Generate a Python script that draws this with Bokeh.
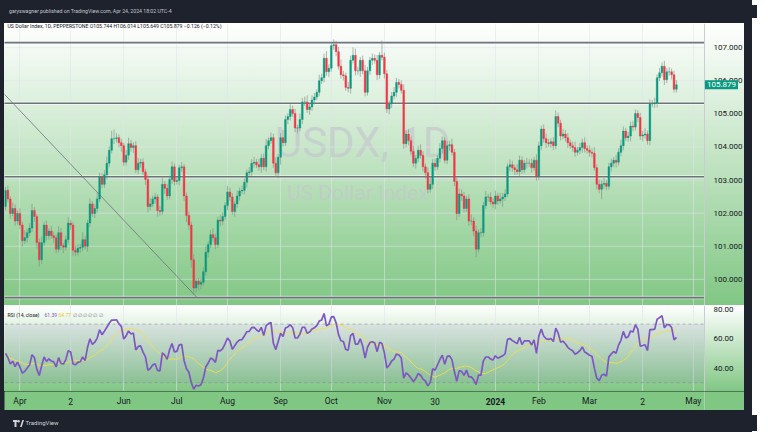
import numpy as np
import pandas as pd
from bokeh.plotting import figure
from bokeh.models import (Range1d, FixedTicker, NumeralTickFormatter, Label,
                          BoxAnnotation, Div, ColumnDataSource)
from bokeh.layouts import column
from bokeh.embed import file_html
from bokeh.resources import INLINE
from bokeh.core.properties import value

# ---------------- data ----------------
closes = [
    102.69, 102.43, 101.99, 102.14, 101.76, 101.99, 101.64, 101.17, 101.26, 101.41,
    101.55, 102.08, 101.90, 101.11, 100.59, 101.11, 101.64, 101.32, 101.46, 101.32,
    101.26, 100.91, 101.41, 101.02, 100.97, 101.20, 101.70, 101.64, 100.88, 100.82,
    100.94, 100.97, 101.20, 101.00, 101.70, 102.28, 101.99, 102.14, 102.43, 103.10,
    102.87, 103.16, 103.51, 103.90, 104.25, 104.25, 104.28, 104.13, 104.04, 103.54,
    103.75, 104.10, 103.98, 104.04, 103.31, 103.51, 103.54, 103.25, 103.02, 102.20,
    102.28, 102.43, 102.49, 102.08, 102.05, 102.87, 102.75, 102.52, 103.02, 103.40,
    102.96, 102.99,
    103.37, 103.40, 102.52, 101.93, 101.64, 100.59, 99.74, 99.94, 99.85, 99.91,
    100.23, 100.82, 101.05, 101.35, 101.26, 101.05, 101.79, 101.76, 101.90, 102.23,
    102.64, 102.49, 102.05, 102.28, 102.52, 102.67, 102.69, 102.93, 103.22, 103.25,
    103.51, 103.54, 103.46, 103.40, 103.66, 103.40, 104.04, 104.19, 104.28, 103.51,
    103.22, 103.69, 104.28, 104.13, 104.83, 104.92, 105.13, 105.01, 104.57, 104.57,
    104.83, 105.36, 105.36, 105.13, 105.21, 105.42, 105.51, 105.65, 106.00, 106.09,
    106.68, 106.27, 106.38, 107.06, 107.09, 106.88, 106.44, 106.18, 106.15, 105.80,
    105.77, 106.62, 106.77,
    106.30, 106.30, 106.62, 106.30, 105.65, 106.30, 106.62, 106.68, 106.62, 106.18,
    106.77, 106.71, 106.21, 105.15, 105.30, 105.54, 105.65, 105.95, 105.89, 105.71,
    104.10, 104.39, 104.19, 103.87, 103.51, 103.66, 103.90, 103.75, 103.40, 103.22,
    102.72, 102.87, 103.51, 103.40, 103.66, 103.95, 104.19, 103.60, 104.04, 104.07,
    103.84, 102.96, 101.99, 102.58, 102.52, 102.14, 102.43, 101.76, 101.76, 101.46,
    100.91, 101.41, 101.41, 102.23, 102.49, 102.49, 102.34, 102.28, 102.52, 102.37,
    102.43, 102.49, 102.58, 103.40, 103.46, 103.37, 103.31, 103.25, 103.60, 103.31,
    103.51,
    103.51, 103.51, 103.37, 103.60, 103.10, 104.04, 104.54, 104.25, 104.13, 104.10,
    104.16, 104.04, 104.92, 104.72, 104.33, 104.39, 104.28, 104.13, 104.04, 103.98,
    103.84, 103.90, 103.98, 104.13, 103.95, 103.90, 103.84, 103.81, 103.37, 102.87,
    102.72, 102.87, 102.90, 102.81, 103.40, 103.51, 103.60, 103.54, 103.84, 104.04,
    104.48, 104.28, 104.33, 104.63, 104.60, 105.01, 104.89, 104.33, 104.36, 104.39,
    104.19, 105.30, 105.30, 105.33, 106.09, 106.24, 106.44, 106.03, 106.27, 106.27,
    106.18, 105.744, 105.879,
]
first_open = 102.20

# wick lengths above / below the body, in hundredths of a point
upper_wick = [
    10, 14, 8, 18, 12, 9, 16, 10, 22, 12,   14, 20, 10, 8, 12, 18, 10, 14, 9, 16,
    12, 10, 20, 14, 8, 12, 18, 10, 9, 14,   12, 10, 22, 12, 10, 16, 9, 14, 18, 12,
    10, 14, 20, 12, 24, 28, 14, 10, 12, 8,  16, 18, 12, 10, 14, 16, 10, 12, 9, 14,
    18, 10, 12, 8, 14, 20, 10, 14, 12, 16,  10, 12, 9, 14, 8, 10, 12, 10, 16, 8,
    10, 12, 14, 18, 10, 14, 20, 12, 10, 16, 12, 10, 18, 14, 12, 9, 16, 10, 14, 12,
    10, 14, 12, 16, 10, 18, 12, 14, 20, 10, 16, 12, 18, 10, 14, 24, 12, 10, 16, 12,
    14, 10, 18, 12, 16, 20, 10, 14, 12, 10, 18, 12, 14, 22, 12, 10, 16, 12, 14, 20,
    12, 10, 16, 14, 24, 20, 12, 10, 14, 18, 12, 10, 14, 12, 16, 10, 45, 14, 12, 10,
    12, 16, 14, 10, 12, 18, 10, 14, 12, 16, 10, 14, 18, 12, 10, 16, 22, 12, 14, 10,
    16, 12, 10, 14, 12, 18, 10, 12, 16, 14, 12, 10, 14, 20, 12, 16, 10, 14, 12, 18,
    10, 14, 12, 16, 10, 18, 12, 14, 10, 16, 12, 10, 18, 14, 12, 10, 16, 12, 14, 10,
    18, 12, 10, 14, 16, 12, 10, 14, 18, 12, 10, 16, 12, 14, 10, 12, 18, 10, 14, 12,
    16, 10, 14, 12, 18, 10, 14, 12, 16, 10, 12, 14, 10, 16, 12, 18, 14, 10, 12, 14,
    16, 12, 10, 14, 12, 18, 10, 14, 12, 16, 10, 14, 12, 16, 12, 14, 10, 12, 14,
]
lower_wick = [
    12, 10, 16, 8, 14, 10, 12, 18, 10, 14,  10, 12, 16, 18, 20, 12, 10, 14, 12, 10,
    16, 12, 10, 14, 18, 10, 12, 14, 16, 12, 10, 14, 12, 10, 16, 12, 10, 14, 12, 10,
    12, 10, 14, 12, 10, 16, 12, 14, 18, 12, 10, 14, 12, 16, 10, 12, 14, 10, 16, 18,
    12, 10, 14, 18, 12, 10, 16, 12, 10, 14, 12, 10, 14, 12, 16, 20, 14, 24, 20, 12,
    18, 14, 10, 12, 16, 10, 12, 14, 10, 16, 12, 10, 14, 12, 10, 16, 12, 14, 10, 12,
    16, 10, 12, 14, 10, 12, 18, 10, 14, 12, 10, 14, 12, 16, 22, 12, 10, 14, 12, 10,
    12, 16, 10, 14, 12, 10, 16, 12, 14, 10, 12, 10, 14, 12, 16, 10, 12, 14, 10, 12,
    14, 10, 12, 16, 10, 14, 12, 18, 10, 12, 10, 12, 14, 10, 16, 12, 10, 14, 12, 16,
    12, 10, 14, 12, 10, 16, 12, 14, 10, 12, 16, 12, 10, 14, 18, 12, 10, 14, 12, 10,
    12, 14, 10, 12, 16, 10, 14, 20, 10, 14, 12, 10, 14, 12, 16, 24, 10, 14, 12, 10,
    14, 10, 12, 16, 12, 10, 24, 12, 10, 14, 12, 16, 10, 14, 12, 10, 16, 12, 14, 10,
    12, 10, 14, 12, 16, 10, 12, 14, 10, 12, 14, 10, 12, 16, 10, 12, 14, 10, 12, 16,
    12, 10, 14, 12, 10, 16, 12, 30, 14, 12, 10, 14, 12, 16, 10, 12, 14, 10, 12, 16,
    12, 10, 14, 12, 16, 10, 12, 14, 10, 12, 14, 10, 12, 16, 10, 12, 14, 10, 10,
]

levels = [107.15, 105.32, 103.10, 99.45]          # horizontal support / resistance
trend_x = [-3.0, 79.5]                            # diagonal trend line (bar index)
trend_y = [105.79, 99.44]
last_price = 105.879

tick_pos = [6, 27, 49, 71, 92, 114, 135, 157, 178, 203, 221, 242, 264, 285]
tick_labels = ["Apr", "2", "Jun", "Jul", "Aug", "Sep", "Oct", "Nov", "30",
               "2024", "Feb", "Mar", "2", "May"]
price_ticks = [100, 101, 102, 103, 104, 105, 106, 107]
rsi_ticks = [40, 60, 80]

# ---------------- derived series ----------------
n = len(closes)
xs = list(range(n))
opens = [first_open] + closes[:-1]
highs = [max(o, c) + u / 100 for o, c, u in zip(opens, closes, upper_wick)]
lows = [min(o, c) - l / 100 for o, c, l in zip(opens, closes, lower_wick)]
UP, DOWN = "#089981", "#f23645"
colors = [UP if c >= o else DOWN for o, c in zip(opens, closes)]
src = ColumnDataSource(dict(x=xs, o=opens, c=closes, h=highs, l=lows,
                            top=[max(o, c) for o, c in zip(opens, closes)],
                            bot=[min(o, c) for o, c in zip(opens, closes)],
                            col=colors))

# RSI(14) with Wilder smoothing, plus its 14-period SMA
cl = np.array(closes)
d = np.diff(cl)
g = np.clip(d, 0, None)
lo = np.clip(-d, 0, None)
ag = al = np.mean(np.abs(d[:14])) / 2
rsi = [50.0]
for gi, li in zip(g, lo):
    ag = (ag * 13 + gi) / 14
    al = (al * 13 + li) / 14
    rsi.append(100 - 100 / (1 + ag / al))
rsi_ma = pd.Series(rsi).rolling(14, min_periods=1).mean().tolist()

# ---------------- styling helpers ----------------
FONT = "Roboto"
TXT = "#131722"
GRAD = {"background": "linear-gradient(to bottom, #ffffff 0%, #81c784 100%)"}
X0 = -0.4
SCALE_X = 289.6          # right edge of the chart area = start of the price scale
XR = Range1d(X0, 306.2)
GRID = "#e0e3eb"


def base_fig(h, yr, ticks, fmt):
    f = figure(width=740, height=h, x_range=XR, y_range=yr, output_backend="svg",
               toolbar_location=None, y_axis_location="right",
               min_border_left=0, min_border_right=0, min_border_top=0,
               min_border_bottom=0)
    f.background_fill_alpha = 0
    f.border_fill_alpha = 0
    f.outline_line_color = None
    f.xaxis.visible = False
    f.xgrid.ticker = FixedTicker(ticks=tick_pos)
    f.xgrid.grid_line_color = GRID
    f.xgrid.grid_line_alpha = 0.55
    f.ygrid.visible = False
    ax = f.yaxis[0]
    ax.fixed_location = SCALE_X
    ax.ticker = FixedTicker(ticks=ticks)
    ax.formatter = NumeralTickFormatter(format=fmt)
    ax.major_tick_line_color = None
    ax.minor_tick_line_color = None
    ax.axis_line_color = "#c9cdd3"
    ax.major_label_text_font = FONT
    ax.major_label_text_font_size = "8px"
    ax.major_label_text_color = TXT
    ax.major_label_standoff = 3
    f.styles = GRAD
    f.margin = (0, 8, 0, 4)
    return f


# ---------------- main price pane ----------------
p = base_fig(282, Range1d(99.21, 107.73), price_ticks, "0.000")
p.segment(x0=[X0] * len(price_ticks), x1=[SCALE_X] * len(price_ticks),
          y0=price_ticks, y1=price_ticks, line_color=GRID, line_alpha=0.55,
          line_width=1)

p.add_layout(Label(x=148, y=104.13, text="USDX, 1D", text_align="center",
                   text_baseline="middle", text_font=FONT, text_font_size="42px",
                   text_color="#c4c7cd", text_alpha=0.7, level="underlay"))
p.add_layout(Label(x=146, y=102.6, text="US Dollar Index", text_align="center",
                   text_baseline="middle", text_font=FONT, text_font_size="21px",
                   text_color="#c4c7cd", text_alpha=0.7, level="underlay"))

p.segment(x0=[X0 - 1] * len(levels), x1=[SCALE_X] * len(levels), y0=levels,
          y1=levels, line_color="white", line_width=3.4, line_alpha=0.55)
p.segment(x0=[X0 - 1] * len(levels), x1=[SCALE_X] * len(levels), y0=levels,
          y1=levels, line_color="#6e727b", line_width=1.7)
p.line(trend_x, trend_y, line_color="#6e727b", line_width=0.8)

p.segment("x", "h", "x", "l", source=src, line_color="#7d8a80", line_alpha=0.6,
          line_width=1)
p.vbar(x="x", top="top", bottom="bot", width=0.72, source=src, fill_color="col",
       line_color="col", line_width=0.4)

p.add_layout(Label(x=X0, y=107.64, x_offset=3,
                   text="US Dollar Index, 1D, PEPPERSTONE O105.744 H106.014 L105.649 C105.879 \u22120.126 (\u22120.12%)",
                   text_baseline="middle", text_font=FONT, text_font_size="5.2px",
                   text_color=TXT))
# last-price tag on the price scale
p.add_layout(Label(x=SCALE_X, y=last_price, x_offset=0.5, text="105.879",
                   text_baseline="middle", text_align="left", text_font=FONT,
                   text_font_size="8px", text_color="white",
                   background_fill_color=UP, padding=2, level="overlay"))

# ---------------- RSI pane ----------------
r = base_fig(86, Range1d(24, 82.7), rsi_ticks, "0.00")
r.add_layout(BoxAnnotation(bottom=30, top=70, right=SCALE_X, fill_color="#7e57c2",
                           fill_alpha=0.1, line_color=None, level="underlay"))
r.segment(x0=[X0, X0], x1=[SCALE_X, SCALE_X], y0=[70, 30], y1=[70, 30],
          line_color="#787b86", line_dash="3 3", line_width=0.8, line_alpha=0.6)
r.line(xs, rsi_ma, line_color="#f3e04a", line_width=0.9)
r.line(xs, rsi, line_color="#7e57c2", line_width=1.7)
for off, txt, colr in [(3, "RSI (14, close)", TXT), (40, "61.39", "#7e57c2"),
                       (54, "64.77", "#e8c520"),
                       (68, "\u2205 \u2205 \u2205 \u2205 \u2205 \u2205", "#787b86")]:
    r.add_layout(Label(x=X0, y=76, x_offset=off, text=txt, text_baseline="middle",
                       text_font=FONT, text_font_size="5px", text_color=colr))

# ---------------- time axis ----------------
t = figure(width=740, height=19, x_range=XR, y_range=Range1d(0, 1),
           output_backend="svg", toolbar_location=None, min_border_left=0,
           min_border_right=0, min_border_top=0, min_border_bottom=0)
t.axis.visible = False
t.grid.visible = False
t.outline_line_color = None
t.background_fill_color = "#81c784"
t.border_fill_color = "#81c784"
t.margin = (0, 8, 0, 4)
norm = [i for i, lab in enumerate(tick_labels) if lab != "2024"]
bold = [i for i, lab in enumerate(tick_labels) if lab == "2024"]
t.text(x=[tick_pos[i] for i in norm], y=[0.5] * len(norm),
       text=[tick_labels[i] for i in norm], text_align="center",
       text_baseline="middle", text_font=value(FONT), text_font_size="8.5px",
       text_color=TXT)
t.text(x=[tick_pos[i] for i in bold], y=[0.5] * len(bold),
       text=[tick_labels[i] for i in bold], text_align="center",
       text_baseline="middle", text_font=value(FONT), text_font_size="8.5px",
       text_font_style="bold", text_color=TXT)
t.segment(x0=[SCALE_X], x1=[SCALE_X], y0=[0], y1=[1], line_color="#a5d6a7",
          line_width=1)

# ---------------- header / footer ----------------
header = Div(text="garyswagner published on TradingView.com, Apr 24, 2024 18:02 UTC-4",
             width=752, height=13,
             styles={"color": "#c3c6ce", "font-family": FONT, "font-size": "5.2px",
                     "line-height": "13px", "padding-left": "4px",
                     "background-color": "#1e222d"})
logo = ("<svg width='11' height='7' viewBox='0 0 11 7' style='vertical-align:middle'>"
        "<rect x='0' y='0' width='4.5' height='2' fill='#d1d4dc'/>"
        "<rect x='1.5' y='0' width='2' height='7' fill='#d1d4dc'/>"
        "<circle cx='5.6' cy='1.3' r='1.2' fill='#d1d4dc'/>"
        "<path d='M7 7 L9.3 0 H11 L8.7 7 Z' fill='#d1d4dc'/></svg>")
footer = Div(text=logo + " <span style='vertical-align:middle'>TradingView</span>",
             width=752, height=16,
             styles={"color": "#d1d4dc", "font-family": FONT, "font-size": "6px",
                     "line-height": "16px", "padding-left": "8px",
                     "background-color": "#1e222d"})

page = column(header, p, r, t, footer, spacing=0, width=752,
              styles={"background-color": "#1e222d"})

open("out.html", "w").write(file_html(page, INLINE))
